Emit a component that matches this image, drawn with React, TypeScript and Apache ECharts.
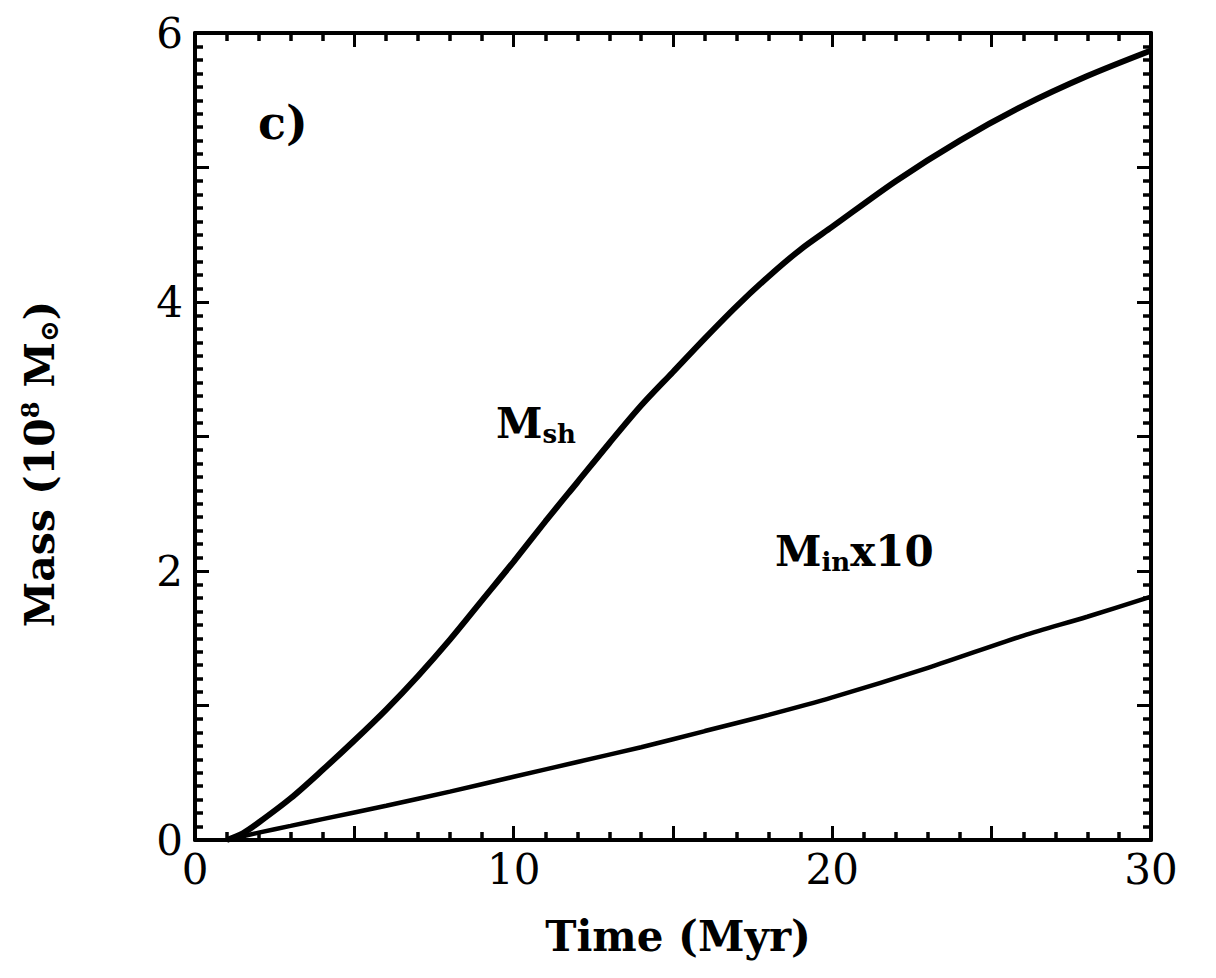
import React, { useEffect, useRef } from "react";
import * as echarts from "echarts";

// Time (Myr)
const shTime = [1, 1.5, 2, 3, 4, 5, 6, 7, 8, 9, 10, 11, 12, 13, 14, 15, 16, 17, 18, 19, 20, 22, 24, 26, 28, 30];
// M_sh (10^8 Msun)
const shMass = [0, 0.05, 0.13, 0.31, 0.52, 0.74, 0.97, 1.22, 1.49, 1.78, 2.07, 2.37, 2.66, 2.95, 3.23, 3.48, 3.73, 3.97, 4.19, 4.39, 4.56, 4.9, 5.2, 5.46, 5.68, 5.87];

const inTime = [1, 2, 3, 4, 6, 8, 10, 12, 14, 16, 18, 20, 23, 26, 28, 30];
// M_in x 10
const inMass = [0, 0.055, 0.105, 0.155, 0.255, 0.36, 0.47, 0.58, 0.69, 0.81, 0.93, 1.06, 1.28, 1.52, 1.66, 1.81];

const xTickLabels = [0, 10, 20, 30];
const yTickLabels = [0, 2, 4, 6];

const FONT = "DejaVu Serif";

export default function App() {
  const ref = useRef<HTMLDivElement>(null);
  useEffect(() => {
    if (!ref.current) return;
    const chart = echarts.init(ref.current, null, { renderer: "svg" });
    const axisCommon = (showLabel: boolean, isX: boolean, pos: string) => ({
      type: "value",
      position: pos,
      min: 0,
      max: isX ? 30 : 6,
      interval: isX ? 5 : 1,
      axisLine: { show: true, onZero: false, lineStyle: { color: "#000", width: 4 } },
      axisTick: { show: true, inside: true, length: 14, lineStyle: { color: "#000", width: 3 } },
      minorTick: { show: true, splitNumber: isX ? 5 : 10, length: 8, lineStyle: { color: "#000", width: 3.5 } },
      splitLine: { show: false },
      minorSplitLine: { show: false },
      axisLabel: {
        show: showLabel,
        color: "#000",
        fontFamily: FONT,
        fontSize: 42,
        margin: isX ? 8 : 12,
        formatter: (v: number) =>
          (isX ? xTickLabels : yTickLabels).indexOf(v) >= 0 ? String(v) : "",
      },
    });
    chart.setOption({
      animation: false,
      backgroundColor: "#fff",
      grid: { left: 195, right: 65, top: 33, bottom: 138, containLabel: false },
      xAxis: [axisCommon(true, true, "bottom"), axisCommon(false, true, "top")],
      yAxis: [axisCommon(true, false, "left"), axisCommon(false, false, "right")],
      series: [
        {
          type: "line",
          name: "Msh",
          data: shTime.map((t, i) => [t, shMass[i]]),
          showSymbol: false,
          symbol: "none",
          smooth: 0.3,
          lineStyle: { color: "#000", width: 6 },
        },
        {
          type: "line",
          name: "Min",
          data: inTime.map((t, i) => [t, inMass[i]]),
          showSymbol: false,
          symbol: "none",
          smooth: 0.3,
          lineStyle: { color: "#000", width: 4.5 },
        },
      ],
      graphic: [
        {
          type: "text",
          left: 258,
          top: 100,
          style: { text: "c)", font: `bold 46px "${FONT}"`, fill: "#000" },
        },
        {
          type: "text",
          left: 496,
          top: 402,
          style: {
            text: "{m|M}{s|sh}",
            fill: "#000",
            rich: {
              m: { font: `bold 42px "${FONT}"`, fill: "#000" },
              s: { font: `bold 26px "${FONT}"`, fill: "#000", padding: [22, 0, 0, 0] },
            },
          },
        },
        {
          type: "text",
          left: 775,
          top: 530,
          style: {
            text: "{m|M}{s|in}{m|x10}",
            fill: "#000",
            rich: {
              m: { font: `bold 42px "${FONT}"`, fill: "#000" },
              s: { font: `bold 26px "${FONT}"`, fill: "#000", padding: [22, 0, 0, 0] },
            },
          },
        },
        {
          type: "text",
          x: 40,
          y: 464,
          rotation: Math.PI / 2,
          style: {
            text: "{a|Mass (10}{p|8}{a| M}{b|⊙}{a|)}",
            align: "center",
            verticalAlign: "middle",
            fill: "#000",
            rich: {
              a: { font: `bold 41px "${FONT}"`, fill: "#000" },
              p: { font: `bold 24px "${FONT}"`, fill: "#000", padding: [0, 0, 20, 0] },
              b: { font: `bold 26px "${FONT}"`, fill: "#000", padding: [18, 0, 0, 0] },
            },
          },
        },
        {
          type: "text",
          x: 678,
          y: 936,
          style: {
            text: "Time (Myr)",
            align: "center",
            verticalAlign: "middle",
            font: `bold 42px "${FONT}"`,
            fill: "#000",
          },
        },
      ],
    });
    return () => chart.dispose();
  }, []);
  return (
    <div
      ref={ref}
      style={{ position: "absolute", left: 0, top: 0, width: 1216, height: 978, background: "#fff" }}
    />
  );
}
